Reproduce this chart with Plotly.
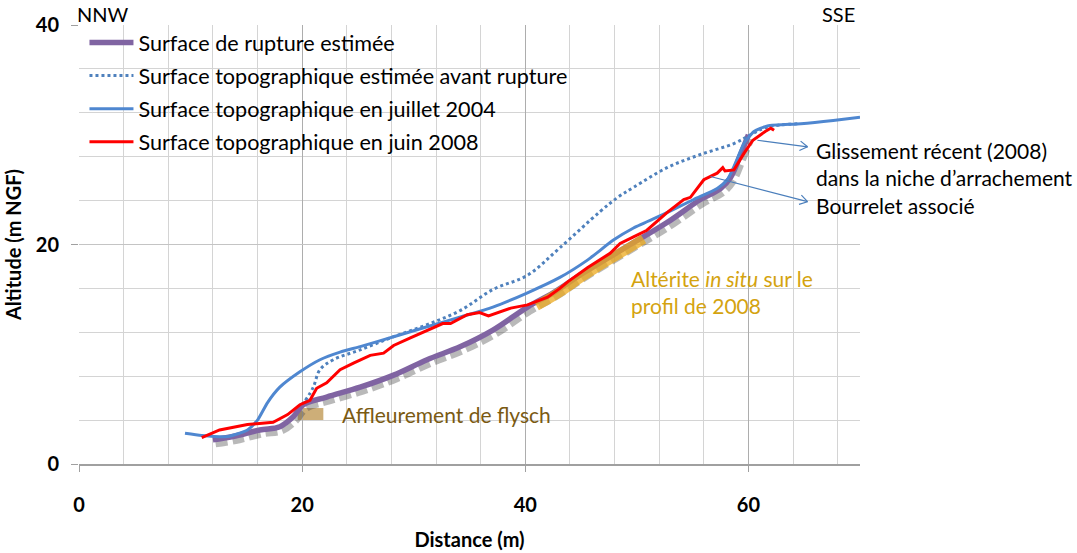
import math
import plotly.graph_objects as go

# Profil NNW-SSE : distance (m) / altitude (m NGF)
rupture_x = [12.0, 13.8, 16.2, 18.0, 19.2, 20.1, 22.2, 25.2, 28.2, 31.2, 34.2, 37.1,
             40.2, 42.5, 45.2, 49.1, 52.7, 55.7, 57.5, 58.4, 59.3, 60.0]
rupture_y = [2.2, 2.5, 3.1, 3.4, 4.3, 5.4, 6.1, 7.0, 8.1, 9.5, 10.7, 12.2,
             14.3, 15.6, 17.4, 19.8, 22.0, 24.1, 25.1, 26.1, 28.2, 30.0]

avant_x = [20.3, 21.0, 21.6, 22.8, 25.2, 28.2, 31.2, 34.2, 37.1, 40.2, 43.1, 46.7,
           48.3, 49.7, 52.7, 55.7, 58.7, 60.2, 61.7, 64.5]
avant_y = [5.8, 7.0, 8.6, 9.5, 10.4, 11.6, 12.7, 14.0, 15.9, 17.2, 19.7, 23.0,
           24.3, 25.2, 27.0, 28.2, 29.2, 30.0, 30.7, 31.0]

juillet2004_x = [9.5, 11.0, 13.3, 15.1, 16.0, 16.9, 18.0, 19.8, 21.6, 23.4, 25.2, 28.2,
                 31.2, 34.2, 37.1, 40.2, 43.1, 45.6, 47.9, 49.7, 52.7, 55.1, 57.2, 58.1,
                 58.7, 59.6, 60.5, 61.7, 64.7, 67.6, 70.0]
juillet2004_y = [2.8, 2.6, 2.5, 3.1, 4.0, 5.6, 7.0, 8.4, 9.5, 10.2, 10.7, 11.6,
                 12.5, 13.4, 14.3, 15.6, 17.0, 18.6, 20.4, 21.5, 22.9, 24.1, 25.1, 25.9,
                 27.1, 29.2, 30.3, 30.8, 31.0, 31.3, 31.6]

juin2008_x = [11.0, 12.6, 15.1, 16.2, 17.4, 18.7, 19.8, 20.7, 21.3, 22.2, 23.4, 24.6,
              26.1, 27.3, 28.2, 29.7, 31.7, 32.6, 33.3, 34.8, 35.9, 36.7, 38.7, 40.2,
              42.0, 43.1, 43.8, 45.6, 47.6, 48.5, 49.7, 50.9, 52.7, 54.2, 54.8, 56.0,
              57.2, 57.7, 57.9, 58.7, 59.6, 60.4, 61.5, 62.0, 62.3]
juin2008_y = [2.4, 3.1, 3.6, 3.7, 3.8, 4.5, 5.4, 5.8, 6.9, 7.4, 8.6, 9.2,
              9.9, 10.1, 10.8, 11.5, 12.4, 12.8, 12.8, 13.6, 13.8, 13.5, 14.2, 14.5,
              15.2, 16.0, 16.6, 17.9, 19.2, 20.1, 20.7, 21.3, 22.9, 24.1, 24.3, 25.9,
              26.5, 27.0, 26.7, 26.8, 28.3, 29.5, 30.3, 30.6, 30.4]

# Altérite in situ le long du profil 2008
alterite_x = [41.0, 43.0, 45.0, 47.0, 49.0, 50.6]
alterite_y = [14.4, 15.6, 17.0, 18.3, 19.5, 20.5]

# Affleurement de flysch (emprise)
flysch_x = [19.6, 21.9]
flysch_y = [4.0, 5.1]

X_RANGE = [0, 70]
Y_RANGE = [0, 40]
FONT = "Lato"

fig = go.Figure()

# ombre portée de la surface de rupture
fig.add_trace(go.Scatter(
    x=[v + 0.25 for v in rupture_x], y=[v - 0.4 for v in rupture_y],
    mode="lines", line=dict(color="rgba(70,70,70,0.38)", width=6, dash="12px,5px",
                            shape="spline"),
    showlegend=False, hoverinfo="skip"))

fig.add_trace(go.Scatter(
    x=rupture_x, y=rupture_y, mode="lines", name="Surface de rupture estimée",
    legendgroup="g1",
    line=dict(color="#8064A2", width=5.5, shape="spline")))

fig.add_trace(go.Scatter(
    x=alterite_x, y=alterite_y, mode="lines",
    line=dict(color="rgba(236,170,30,0.75)", width=10, shape="spline"),
    showlegend=False, hoverinfo="skip"))

fig.add_trace(go.Scatter(
    x=avant_x, y=avant_y, mode="lines", legendgroup="g2",
    name="Surface topographique estimée avant rupture",
    line=dict(color="#4F81BD", width=3, dash="dot", shape="spline")))

fig.add_trace(go.Scatter(
    x=juillet2004_x, y=juillet2004_y, mode="lines", legendgroup="g3",
    name="Surface topographique en juillet 2004",
    line=dict(color="#4F87D0", width=3, shape="spline", smoothing=0.6)))

fig.add_trace(go.Scatter(
    x=juin2008_x, y=juin2008_y, mode="lines", legendgroup="g4",
    name="Surface topographique en juin 2008",
    line=dict(color="#FF0000", width=3)))

shapes = [dict(type="rect", xref="x", yref="y",
               x0=flysch_x[0], x1=flysch_x[1], y0=flysch_y[0], y1=flysch_y[1],
               fillcolor="rgba(196,160,96,0.85)", line=dict(width=0), layer="below")]

# flèches de renvoi
PX_X = 781 / (X_RANGE[1] - X_RANGE[0])
PX_Y = 439 / (Y_RANGE[1] - Y_RANGE[0])


def arrow(x0, y0, x1, y1, color="#4A7EBB", head=9, spread=32):
    out = [dict(type="line", xref="x", yref="y", x0=x0, y0=y0, x1=x1, y1=y1,
                line=dict(color=color, width=1.2))]
    dx, dy = (x1 - x0) * PX_X, (y1 - y0) * PX_Y
    n = math.hypot(dx, dy)
    ux, uy = dx / n, dy / n
    for s in (1, -1):
        a = math.radians(spread) * s
        bx = ux * math.cos(a) - uy * math.sin(a)
        by = ux * math.sin(a) + uy * math.cos(a)
        out.append(dict(type="line", xref="x", yref="y", x0=x1, y0=y1,
                        x1=x1 - head * bx / PX_X, y1=y1 - head * by / PX_Y,
                        line=dict(color=color, width=1.2)))
    return out


shapes += arrow(60.8, 29.5, 65.3, 28.9)
shapes += arrow(56.6, 26.2, 65.3, 23.9)

annotations = [
    dict(x=2.15, y=1.024, xref="x", yref="paper", text="NNW", showarrow=False,
         font=dict(size=20), xanchor="center", yanchor="middle"),
    dict(x=68.1, y=1.024, xref="x", yref="paper", text="SSE", showarrow=False,
         font=dict(size=20), xanchor="center", yanchor="middle"),
    dict(x=65.9, y=26.1, xref="x", yref="y", showarrow=False, xanchor="left",
         yanchor="middle", align="left", font=dict(size=21),
         text="Glissement récent (2008)<br>dans la niche d’arrachement<br>Bourrelet associé"),
    dict(x=23.4, y=4.55, xref="x", yref="y", showarrow=False, xanchor="left",
         yanchor="middle", font=dict(size=21, color="#7A5A12"),
         text="Affleurement de flysch"),
    dict(x=49.3, y=15.65, xref="x", yref="y", showarrow=False, xanchor="left",
         yanchor="middle", align="left", font=dict(size=21, color="#D4A30F"),
         text="Altérite <i>in situ</i> sur le<br>profil de 2008"),
]

fig.update_layout(
    width=1077, height=553,
    margin=dict(l=79, r=217, t=25, b=89, autoexpand=False),
    paper_bgcolor="white", plot_bgcolor="white",
    font=dict(family=FONT, size=19, color="black"),
    shapes=shapes, annotations=annotations,
    legend=dict(x=0.007, y=1.007, xanchor="left", yanchor="top",
                bgcolor="rgba(0,0,0,0)", font=dict(size=21.6), itemwidth=44,
                tracegroupgap=2),
    xaxis=dict(range=X_RANGE, tick0=0, dtick=20, showgrid=True, gridcolor="#ADADAD",
               minor=dict(dtick=4, showgrid=True, gridcolor="#D4D4D4"),
               ticks="outside", ticklen=6, tickcolor="#A0A0A0", automargin=False,
               showline=True, linecolor="#A0A0A0", linewidth=1.5, zeroline=False,
               ticklabelstandoff=16, tickfont=dict(size=20, weight="bold"),
               title=dict(text="<b>Distance (m)</b>", standoff=18, font=dict(size=20))),
    yaxis=dict(range=Y_RANGE, tick0=0, dtick=20, showgrid=True, gridcolor="#C4C4C4",
               minor=dict(dtick=4, showgrid=True, gridcolor="#D4D4D4"),
               ticks="outside", ticklen=7, tickcolor="#A0A0A0", automargin=False,
               showline=False, zeroline=False,
               ticklabelstandoff=8, tickfont=dict(size=20, weight="bold"),
               title=dict(text="<b>Altitude (m NGF)</b>", standoff=8, font=dict(size=20))),
)

fig.write_html("out.html")
